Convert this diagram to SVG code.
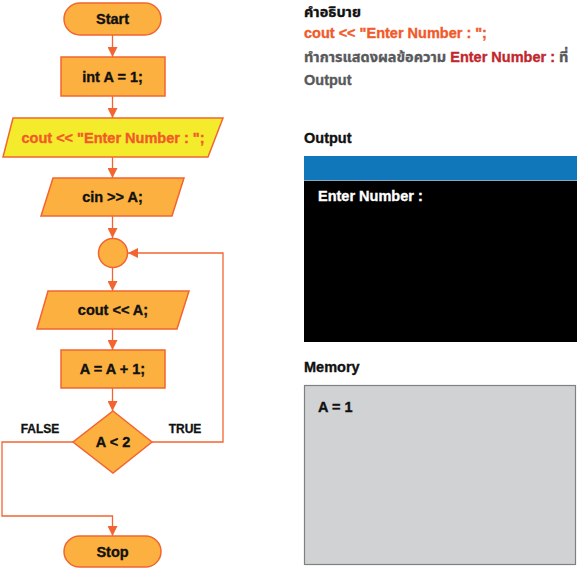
<svg xmlns="http://www.w3.org/2000/svg" width="577" height="569" viewBox="0 0 577 569">
<defs>
<marker id="ah" viewBox="0 0 10 10" refX="10" refY="5" markerWidth="10" markerHeight="10" markerUnits="userSpaceOnUse" orient="auto">
<path d="M0,0 L10,5 L0,10 z" fill="#F26531"/>
</marker>
<style>
.n{fill:#FBB040;stroke:#F26531;stroke-width:1.5}
.y{fill:#F4EB2C;stroke:#F26531;stroke-width:1.5}
.t{font-family:"Liberation Sans",Arial,sans-serif;font-weight:bold;font-size:14.5px;fill:#111;stroke:#111;stroke-width:0.35;text-anchor:middle;dominant-baseline:central}
.c{fill:none;stroke:#F26531;stroke-width:1.3}
.lb{font-family:"Liberation Sans",Arial,sans-serif;font-weight:bold;font-size:12px;fill:#111;stroke:#111;stroke-width:0.3;text-anchor:middle;dominant-baseline:central}
.r{font-family:"Liberation Sans","Noto Sans Thai","Noto Sans",sans-serif;font-weight:bold;font-size:14.5px;stroke-width:0.35}
</style>
</defs>
<g id="connectors">
<line class="c" x1="112.5" y1="35" x2="112.5" y2="57" marker-end="url(#ah)"/>
<line class="c" x1="112.5" y1="96" x2="112.5" y2="118" marker-end="url(#ah)"/>
<line class="c" x1="112.5" y1="157" x2="112.5" y2="178" marker-end="url(#ah)"/>
<line class="c" x1="112.5" y1="216" x2="112.5" y2="238" marker-end="url(#ah)"/>
<line class="c" x1="112.5" y1="268" x2="112.5" y2="291" marker-end="url(#ah)"/>
<line class="c" x1="112.5" y1="329" x2="112.5" y2="350" marker-end="url(#ah)"/>
<line class="c" x1="112.5" y1="388" x2="112.5" y2="411" marker-end="url(#ah)"/>
<polyline class="c" points="152,442 223,442 223,253 128,253" marker-end="url(#ah)"/>
<polyline class="c" points="73,442 2,442 2,516 112.5,516 112.5,536" marker-end="url(#ah)"/>
<text class="lb" x="40" y="429">FALSE</text>
<text class="lb" x="185" y="429">TRUE</text>
</g>
<g id="start"><rect class="n" x="64" y="3" width="97" height="32" rx="16"/><text class="t" x="112.5" y="19">Start</text></g>
<g id="init"><rect class="n" x="61" y="57" width="104" height="39"/><text class="t" x="112.5" y="76.5">int A = 1;</text></g>
<g id="prompt"><polygon class="y" points="13,118 223,118 208,157 3,157"/><text class="t" x="113" y="137.5" style="fill:#F15A29;stroke:#F15A29">cout &lt;&lt; "Enter Number : ";</text></g>
<g id="input"><polygon class="n" points="53,178 184,178 172,216 41,216"/><text class="t" x="112.5" y="197">cin &gt;&gt; A;</text></g>
<g id="join"><circle class="n" cx="113" cy="253" r="14.5"/></g>
<g id="output"><polygon class="n" points="48,291 189,291 177,329 37,329"/><text class="t" x="113" y="310">cout &lt;&lt; A;</text></g>
<g id="incr"><rect class="n" x="61" y="350" width="104" height="38"/><text class="t" x="112.5" y="369">A = A + 1;</text></g>
<g id="cond"><polygon class="n" points="113,411 152,442 113,473 73,442"/><text class="t" x="113" y="442">A &lt; 2</text></g>
<g id="stop"><rect class="n" x="64" y="536" width="97" height="31" rx="15.5"/><text class="t" x="112.5" y="551.5">Stop</text></g>
<g id="panel">
<text class="r" x="304" y="17" fill="#111" stroke="#111">คำอธิบาย</text>
<text class="r" x="304" y="38" fill="#F15A29" stroke="#F15A29">cout &lt;&lt; "Enter Number : ";</text>
<text class="r" x="304" y="62" fill="#58595B" stroke="#58595B">ทำการแสดงผลข้อความ <tspan fill="#C1272D" stroke="#C1272D">Enter Number :</tspan> ที่</text>
<text class="r" x="304" y="85" fill="#58595B" stroke="#58595B">Output</text>
<text class="r" x="304" y="143" fill="#111" stroke="#111">Output</text>
<rect x="304" y="156" width="273" height="24" fill="#1177BB"/>
<rect x="304" y="180" width="273" height="162" fill="#000"/>
<line x1="304" y1="180.5" x2="577" y2="180.5" stroke="#8AA8C0" stroke-width="1"/>
<text class="r" x="318" y="201" fill="#fff" stroke="#fff">Enter Number :</text>
<text class="r" x="304" y="372" fill="#111" stroke="#111">Memory</text>
<rect x="304.5" y="385.5" width="271" height="179" fill="#D1D2D4" stroke="#808080" stroke-width="1.2"/>
<text class="r" x="318" y="412" fill="#111" stroke="#111">A = 1</text>
</g>
</svg>
